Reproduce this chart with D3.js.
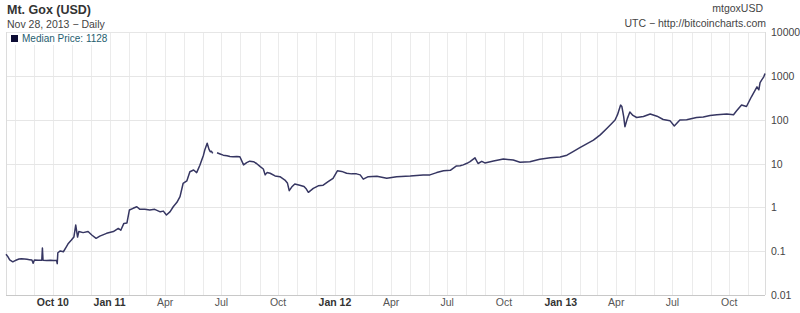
<!DOCTYPE html>
<html><head><meta charset="utf-8">
<script src="https://cdn.jsdelivr.net/npm/d3@7"></script>
<style>
body{margin:0;background:#fff;}
svg{display:block;font-family:"Liberation Sans",Arial,sans-serif;}
</style></head>
<body><svg id="c" width="800" height="313"></svg>
<script>
const dates = ["2010-07-17","2010-07-20","2010-07-23","2010-07-28","2010-07-31","2010-08-03","2010-08-07","2010-08-11","2010-08-16","2010-08-20","2010-08-24","2010-08-28","2010-08-30","2010-09-01","2010-09-07","2010-09-13","2010-09-14","2010-09-15","2010-09-21","2010-09-27","2010-10-02","2010-10-07","2010-10-08","2010-10-09","2010-10-13","2010-10-18","2010-10-23","2010-10-26","2010-10-31","2010-11-04","2010-11-07","2010-11-10","2010-11-12","2010-11-19","2010-11-27","2010-12-03","2010-12-10","2010-12-16","2010-12-27","2011-01-07","2011-01-15","2011-01-19","2011-01-24","2011-01-29","2011-02-02","2011-02-08","2011-02-14","2011-02-19","2011-02-27","2011-03-07","2011-03-15","2011-03-24","2011-03-29","2011-04-03","2011-04-09","2011-04-14","2011-04-20","2011-04-25","2011-04-30","2011-05-06","2011-05-11","2011-05-17","2011-05-22","2011-05-27","2011-06-02","2011-06-04","2011-06-08","2011-06-11","2011-06-13","2011-06-15","2011-06-17","2011-06-20","2011-06-24","2011-06-29","2011-07-04","2011-07-10","2011-07-15","2011-07-20","2011-07-26","2011-07-31","2011-08-06","2011-08-11","2011-08-16","2011-08-22","2011-08-27","2011-09-02","2011-09-07","2011-09-10","2011-09-13","2011-09-18","2011-09-26","2011-10-04","2011-10-12","2011-10-16","2011-10-19","2011-10-23","2011-10-28","2011-11-05","2011-11-12","2011-11-15","2011-11-19","2011-11-27","2011-12-05","2011-12-13","2011-12-21","2011-12-29","2012-01-05","2012-01-12","2012-01-20","2012-01-28","2012-02-05","2012-02-11","2012-02-16","2012-02-24","2012-03-09","2012-03-25","2012-04-10","2012-05-02","2012-05-23","2012-06-03","2012-06-14","2012-06-25","2012-07-06","2012-07-16","2012-07-22","2012-07-27","2012-08-02","2012-08-07","2012-08-15","2012-08-20","2012-08-26","2012-08-31","2012-09-14","2012-09-30","2012-10-16","2012-10-27","2012-11-12","2012-11-28","2012-12-15","2012-12-31","2013-01-11","2013-01-21","2013-02-01","2013-02-12","2013-02-23","2013-03-06","2013-03-17","2013-03-25","2013-03-30","2013-04-03","2013-04-08","2013-04-10","2013-04-13","2013-04-15","2013-04-19","2013-04-23","2013-04-28","2013-05-04","2013-05-15","2013-05-26","2013-06-06","2013-06-16","2013-06-27","2013-07-04","2013-07-13","2013-07-24","2013-08-09","2013-08-20","2013-08-31","2013-09-11","2013-09-27","2013-10-08","2013-10-13","2013-10-21","2013-10-29","2013-11-06","2013-11-15","2013-11-18","2013-11-20","2013-11-23","2013-11-26","2013-11-28"];
const prices = [0.085,0.075,0.063,0.057,0.06,0.063,0.066,0.067,0.066,0.065,0.064,0.063,0.053,0.063,0.062,0.062,0.118,0.062,0.061,0.062,0.061,0.061,0.052,0.092,0.101,0.097,0.127,0.15,0.18,0.21,0.395,0.21,0.28,0.265,0.28,0.234,0.196,0.22,0.255,0.28,0.33,0.30,0.43,0.44,0.87,0.95,1.03,0.9,0.9,0.87,0.9,0.79,0.82,0.67,0.8,1.03,1.3,1.75,3.5,4.0,6.5,7.1,6.2,9,15.5,20,29,21,18.6,19,17,null,17.6,16.5,15.5,15,14.5,14.2,14.5,14.3,9.3,10.5,11.3,11,10,8.5,7.5,5.5,6.2,6,5.2,5.0,4.2,3.6,2.4,2.9,3.4,3.2,3.0,2.7,2.2,2.7,3.1,3.2,3.85,4.6,6.8,6.6,6.0,5.8,5.8,5.5,4.4,5.0,5.1,4.6,5.0,5.2,5.5,5.5,6.2,6.8,7,8.8,8.9,9.3,10.1,11,13.5,10,11.2,10.3,11.4,12.6,12,10.7,11,12.5,13.6,14,15.5,18.7,23,28,34,45,64,83,98,130,215,200,117,69,107,150,125,112,118,135,120,101,95,72,98,100,112,115,125,130,135,130,160,216,200,333,560,480,700,820,950,1128];
const yTicks = [0.01,0.1,1,10,100,1000,10000];
const yTickLabels = ["0.01","0.1","1","10","100","1000","10000"];
const xTickDates = ["2010-10-01","2011-01-01","2011-04-01","2011-07-01","2011-10-01","2012-01-01","2012-04-01","2012-07-01","2012-10-01","2013-01-01","2013-04-01","2013-07-01","2013-10-01"];
const xTickLabels = ["Oct 10","Jan 11","Apr","Jul","Oct","Jan 12","Apr","Jul","Oct","Jan 13","Apr","Jul","Oct"];
const xTickBold = [true,true,false,false,false,true,false,false,false,true,false,false,false];
const seriesName = "Median Price";
const lastValue = 1128;

const parse = d3.utcParse("%Y-%m-%d");
const data = dates.map((d,i)=>({date:parse(d),price:prices[i]}));
const L=6,R=765,T=32,B=295;
const svg = d3.select("#c");
const x = d3.scaleUtc().domain([parse("2010-07-17"),parse("2013-11-28")]).range([L,R]);
const y = d3.scaleLog().domain([0.01,10000]).range([B,T]);

const months = d3.utcMonth.range(parse("2010-08-01"), parse("2013-11-29"));
svg.append("g").selectAll("line").data(months).join("line")
  .attr("x1",d=>Math.round(x(d))+0.5).attr("x2",d=>Math.round(x(d))+0.5)
  .attr("y1",T).attr("y2",B).attr("stroke","#ebebeb").attr("stroke-width",1);
svg.append("g").selectAll("line").data(yTicks).join("line")
  .attr("x1",L).attr("x2",R)
  .attr("y1",d=>Math.round(y(d))+0.5).attr("y2",d=>Math.round(y(d))+0.5)
  .attr("stroke","#e6e6e6");
svg.append("line").attr("x1",L+0.5).attr("x2",L+0.5).attr("y1",T).attr("y2",B).attr("stroke","#dcdcdc");
svg.append("line").attr("x1",R+0.5).attr("x2",R+0.5).attr("y1",T).attr("y2",B).attr("stroke","#dcdcdc");
svg.append("line").attr("x1",L).attr("x2",R).attr("y1",B+0.5).attr("y2",B+0.5).attr("stroke","#c8c8c8");

svg.append("g").selectAll("text").data(yTicks).join("text")
  .attr("x",R+6).attr("y",d=>y(d)+4)
  .attr("font-size",10.5).attr("fill","#444")
  .text((d,i)=>yTickLabels[i]);
svg.append("g").selectAll("text").data(xTickDates).join("text")
  .attr("x",d=>x(parse(d))).attr("y",306)
  .attr("text-anchor","middle").attr("font-size",10.5)
  .attr("font-weight",(d,i)=>xTickBold[i]?"bold":"normal")
  .attr("fill",(d,i)=>xTickBold[i]?"#333":"#555")
  .text((d,i)=>xTickLabels[i]);

const line = d3.line().defined(d=>d.price!=null).x(d=>x(d.date)).y(d=>y(d.price)).curve(d3.curveLinear);
svg.append("path").datum(data).attr("d",line).attr("fill","none")
  .attr("stroke","#363662").attr("stroke-width",1.5).attr("stroke-linejoin","round");

svg.append("rect").attr("x",L+1).attr("y",T+1).attr("width",100).attr("height",12).attr("fill","#fff");
svg.append("rect").attr("x",11).attr("y",35).attr("width",7).attr("height",7).attr("fill","#0d0d35");
svg.append("text").attr("x",22).attr("y",41.5).attr("font-size",10).attr("fill","#1f6070")
  .text(seriesName+": "+lastValue);

svg.append("text").attr("x",7).attr("y",14).attr("font-size",12.5).attr("font-weight","bold").attr("fill","#333").text("Mt. Gox (USD)");
svg.append("text").attr("x",7).attr("y",27.5).attr("font-size",10.5).attr("fill","#444").text("Nov 28, 2013 \u2212 Daily");
svg.append("text").attr("x",763).attr("y",12).attr("text-anchor","end").attr("font-size",10.5).attr("fill","#444").text("mtgoxUSD");
svg.append("text").attr("x",766).attr("y",26.5).attr("text-anchor","end").attr("font-size",10.5).attr("fill","#444").text("UTC \u2212 http://bitcoincharts.com");
</script></body></html>
